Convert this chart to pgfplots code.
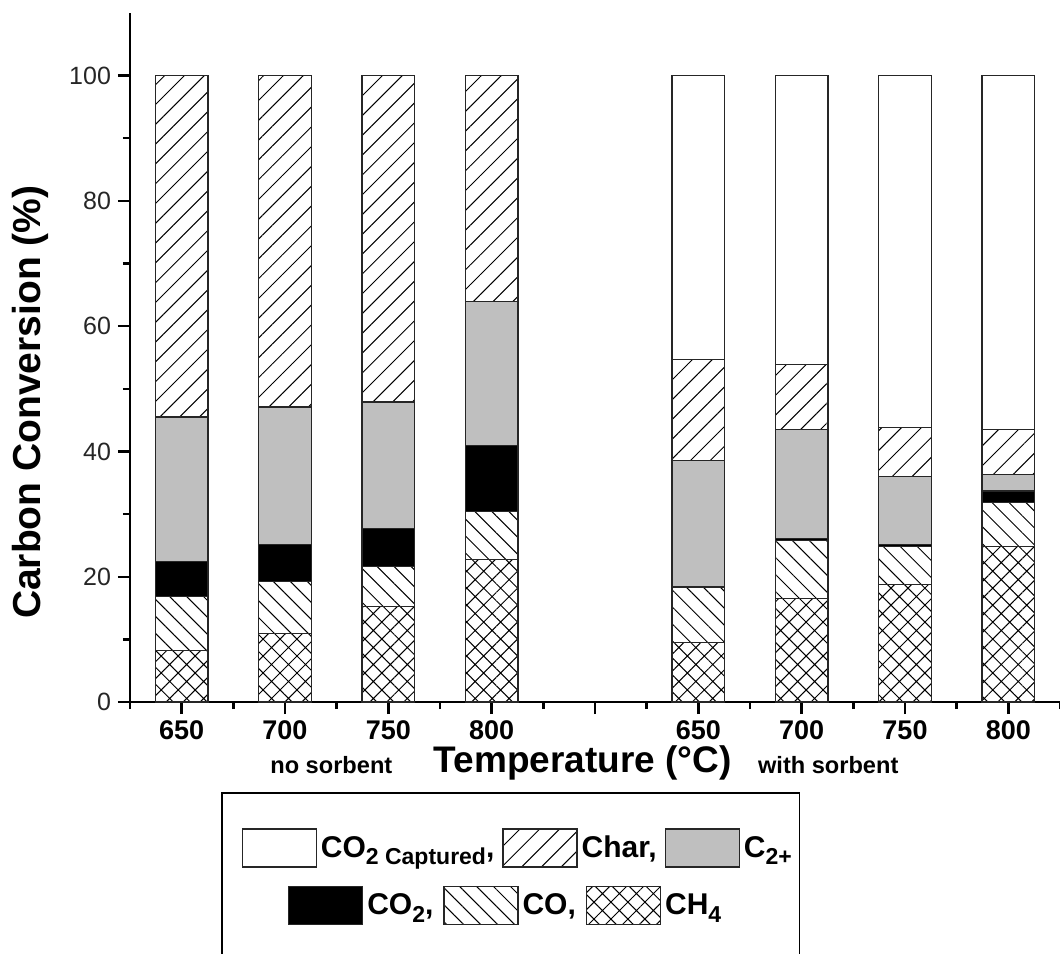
\documentclass[border=0pt]{standalone}
\usepackage{fontspec}
\setmainfont{Liberation Sans}
\usepackage{pgfplots}
\pgfplotsset{compat=1.18}
\usepackage{pgfplotstable}
\usetikzlibrary{patterns.meta}

\definecolor{ctwo}{RGB}{191,191,191}
\newcommand\sub[1]{\raisebox{-0.5ex}{\fontsize{11.5}{12}\selectfont #1}}

% stacked shares (%), bottom to top; x = 1..4 no sorbent, 6..9 with sorbent
\pgfplotstableread{
x  CH4  CO   COtwo Ctwo Char Cap
1  8.2  8.6  5.6   23.1 54.5 0
2  10.9 8.3  5.9   22.0 52.9 0
3  15.2 6.4  6.1   20.2 52.1 0
4  22.7 7.7  10.6  22.9 36.1 0
6  9.5  8.8  0.2   20.1 16.1 45.3
7  16.5 9.3  0.3   17.4 10.4 46.1
8  18.8 6.0  0.3   10.9 7.8  56.2
9  24.8 7.0  1.9   2.6  7.2  56.5
}\data

\tikzset{
  barline/.style={draw=black!85, line width=0.6pt},
  charpat/.style={barline, pattern={Lines[angle=45,distance=7pt,line width=0.5pt]}},
  copat/.style={barline, pattern={Lines[angle=-45,distance=6pt,line width=0.5pt]}},
  chpat/.style={barline, pattern={Hatch[angle=45,distance=6pt,line width=0.5pt]}},
}

\pgfplotsset{
  legfont/.style={font=\bfseries\fontsize{15}{17}\selectfont},
  boxleg/.style={legend image code/.code={\draw[##1] (0pt,-9.5pt) rectangle (37pt,9.5pt);}},
}

\begin{document}
\begin{tikzpicture}
\begin{axis}[name=main,
  scale only axis, width=465pt, height=344.5pt,
  xmin=0.5, xmax=9.5, ymin=0, ymax=110,
  clip=false,
  ybar stacked, bar width=0.51,
  axis x line*=bottom, axis y line*=left,
  axis line style={line width=1.2pt},
  tick align=outside,
  major tick length=6pt, minor tick length=3.5pt,
  tick style={black, line width=1.2pt},
  xtick={1,...,9}, xticklabels={650,700,750,800,,650,700,750,800},
  minor xtick={0.5,1.5,...,9.5},
  ytick={0,20,...,100}, minor ytick={10,30,...,90},
  /pgf/number format/assume math mode=true,
  yticklabel style={font=\fontsize{12.5}{14}\selectfont, text=black!85},
  xticklabel style={font=\bfseries\fontsize{13.5}{15}\selectfont},
  ylabel={Carbon Conversion (\%)},
  ylabel style={at={(axis description cs:-0.1075,0.435)}, anchor=center,
    font=\bfseries\fontsize{19.5}{21}\selectfont},
  xlabel={Temperature (°C)},
  xlabel style={at={(axis description cs:0.487,-0.0885)}, anchor=center,
    font=\bfseries\fontsize{18.5}{20}\selectfont},
  legend columns=3, legend cell align=left,
  legend style={at={(axis description cs:0.418,-0.212)}, anchor=center,
    draw=none, fill=none, legfont,
    /tikz/every even column/.append style={column sep=2pt}},
]
\addplot[chpat, forget plot] table[x=x, y=CH4] {\data};
\addplot[copat, forget plot] table[x=x, y=CO] {\data};
\addplot[barline, fill=black, forget plot] table[x=x, y=COtwo] {\data};
\addplot[barline, fill=ctwo, forget plot] table[x=x, y=Ctwo] {\data};
\addplot[charpat, forget plot] table[x=x, y=Char] {\data};
\addplot[barline, fill=white, forget plot] table[x=x, y=Cap] {\data};

\addlegendimage{boxleg, barline, fill=white}
\addlegendentry{CO\sub{2 Captured},}
\addlegendimage{boxleg, charpat}
\addlegendentry{Char,}
\addlegendimage{boxleg, barline, fill=ctwo}
\addlegendentry{C\sub{2+}}

\node[anchor=west, font=\bfseries\fontsize{11.8}{14}\selectfont]
  at (axis cs:1.79,-10.1) {no sorbent};
\node[anchor=west, font=\bfseries\fontsize{11.8}{14}\selectfont]
  at (axis cs:6.51,-10.1) {with sorbent};

\draw[line width=0.8pt] (axis description cs:0.099,-0.132)
  rectangle (axis description cs:0.72,-0.42);
\end{axis}

\begin{axis}[
  scale only axis, width=465pt, height=344.5pt,
  xmin=0, xmax=1, ymin=0, ymax=1, hide axis,
  legend columns=3, legend cell align=left,
  legend style={at={(axis description cs:0.405,-0.295)}, anchor=center,
    draw=none, fill=none, legfont,
    /tikz/every even column/.append style={column sep=3pt}},
]
\addlegendimage{boxleg, barline, fill=black}
\addlegendentry{CO\sub{2},}
\addlegendimage{boxleg, copat}
\addlegendentry{CO,}
\addlegendimage{boxleg, chpat}
\addlegendentry{CH\sub{4}}
\end{axis}

\pgfresetboundingbox
\path[use as bounding box] ([xshift=-65pt,yshift=-125.5pt]main.south west)
  rectangle ([yshift=6.5pt]main.north east);
\end{tikzpicture}
\end{document}
